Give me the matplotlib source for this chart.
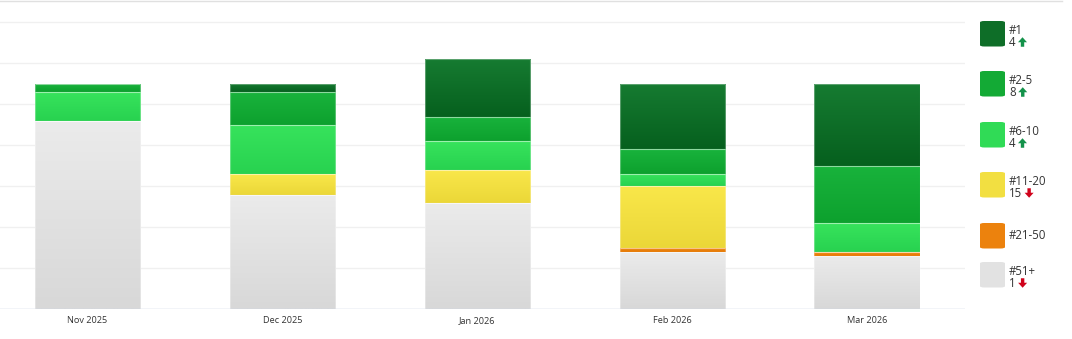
import matplotlib
matplotlib.use('Agg')
import matplotlib.pyplot as plt
import numpy as np
from matplotlib.colors import LinearSegmentedColormap, to_rgb
from matplotlib.patches import FancyBboxPatch, Polygon
from matplotlib.lines import Line2D

plt.rcParams['font.family'] = ['Open Sans', 'DejaVu Sans']

# monthly keyword counts per ranking bucket
months = ['Nov 2025', 'Dec 2025', 'Jan 2026', 'Feb 2026', 'Mar 2026']
rank_1 = [0, 2, 14, 16, 20]
rank_2_5 = [2, 8, 6, 6, 14]
rank_6_10 = [7, 12, 7, 3, 7]
rank_11_20 = [0, 5, 8, 15, 0]
rank_21_50 = [0, 0, 0, 1, 1]
rank_51 = [46, 28, 26, 14, 13]

# stacked bottom -> top
series = [
    ('#51+', rank_51, '#ebebeb', '#d8d8d8'),
    ('#21-50', rank_21_50, '#f28c14', '#e57805'),
    ('#11-20', rank_11_20, '#f9e74a', '#ebd738'),
    ('#6-10', rank_6_10, '#37e35c', '#28d250'),
    ('#2-5', rank_2_5, '#19b33c', '#0da12e'),
    ('#1', rank_1, '#167b31', '#06601e'),
]

W, H = 1072, 339
fig = plt.figure(figsize=(W / 100, H / 100), dpi=100)


def fx(x):
    return x / W


def fy(y):
    return 1 - y / H


base_px = 309.3
px_per_unit = 4.1
ax = fig.add_axes([fx(-10), fy(base_px), 974.5 / W, base_px / H])
ymax = base_px / px_per_unit
x = np.arange(len(months))
bar_w = 0.54

for v in range(0, 80, 10):
    ax.axhline(v, color='#f0f0f0', lw=1, zorder=0)
ax.axhline(0, color='#ccd6eb', lw=1, zorder=5)

bottom = np.zeros(len(months))
for name, vals, top_c, bot_c in series:
    vals = np.array(vals, dtype=float)
    bars = ax.bar(x, vals, bar_w, bottom=bottom, color='none',
                  edgecolor=(1, 1, 1, 0.3), linewidth=0.8, zorder=3)
    cmap = LinearSegmentedColormap.from_list(name, [bot_c, top_c])
    grad = np.linspace(0, 1, 64).reshape(-1, 1)
    for b, v in zip(bars, vals):
        if v <= 0:
            continue
        x0 = b.get_x()
        y0 = b.get_y()
        im = ax.imshow(grad, cmap=cmap, origin='lower', aspect='auto',
                       extent=[x0, x0 + b.get_width(), y0, y0 + v], zorder=2)
        im.set_clip_path(b)
    bottom += vals

ax.set_xlim(-0.5, len(months) - 0.5)
ax.set_ylim(0, ymax)
ax.set_xticks(x)
ax.set_xticklabels(months, fontsize=6.6, color='#333333')
ax.tick_params(axis='x', length=0, pad=5)
ax.set_yticks([])
for s in ax.spines.values():
    s.set_visible(False)
ax.patch.set_alpha(0)

# thin border along the top of the panel
fig.add_artist(Line2D([0, fx(1062)], [fy(0.5), fy(0.5)], color='#e0e0e0', lw=1))

# legend: change between the last two months
legend_y = {'#1': 21, '#2-5': 71, '#6-10': 122, '#11-20': 172, '#21-50': 223, '#51+': 262}


def arrow(cx, cy, up, color):
    # block arrow drawn in pixel space
    w, h, sw, hh = 9, 9.5, 3.4, 5
    d = -1 if up else 1
    tip = cy + d * h / 2
    pts = [(cx, tip), (cx + w / 2, tip - d * hh), (cx + sw / 2, tip - d * hh),
           (cx + sw / 2, cy - d * h / 2), (cx - sw / 2, cy - d * h / 2),
           (cx - sw / 2, tip - d * hh), (cx - w / 2, tip - d * hh)]
    fig.add_artist(Polygon([(fx(a), fy(b)) for a, b in pts], closed=True,
                           facecolor=color, edgecolor='none'))


for name, vals, top_c, bot_c in series:
    y0 = legend_y[name]
    mid = tuple((np.array(to_rgb(top_c)) + np.array(to_rgb(bot_c))) / 2)
    sw = FancyBboxPatch((fx(980), fy(y0 + 25.5)), fx(25), 25.5 / H,
                        boxstyle='round,pad=0,rounding_size=0.004',
                        facecolor=mid, edgecolor='none',
                        transform=fig.transFigure)
    fig.add_artist(sw)
    change = vals[-1] - vals[-2]
    if change == 0:
        fig.text(fx(1009), fy(y0 + 12.5), name, fontsize=8.3, color='#333333',
                 va='center', ha='left')
    else:
        fig.text(fx(1009), fy(y0 + 9.5), name, fontsize=8.3, color='#333333',
                 va='center', ha='left')
        t = fig.text(fx(1009), fy(y0 + 21.5), str(abs(change)), fontsize=8.3,
                     color='#333333', va='center', ha='left')
        fig.canvas.draw()
        bb = t.get_window_extent()
        ax_x = bb.x1 + 7
        if change > 0:
            arrow(ax_x, y0 + 21, True, '#13924a')
        else:
            arrow(ax_x, y0 + 21, False, '#d0021b')

fig.savefig('out.png', dpi=100)
